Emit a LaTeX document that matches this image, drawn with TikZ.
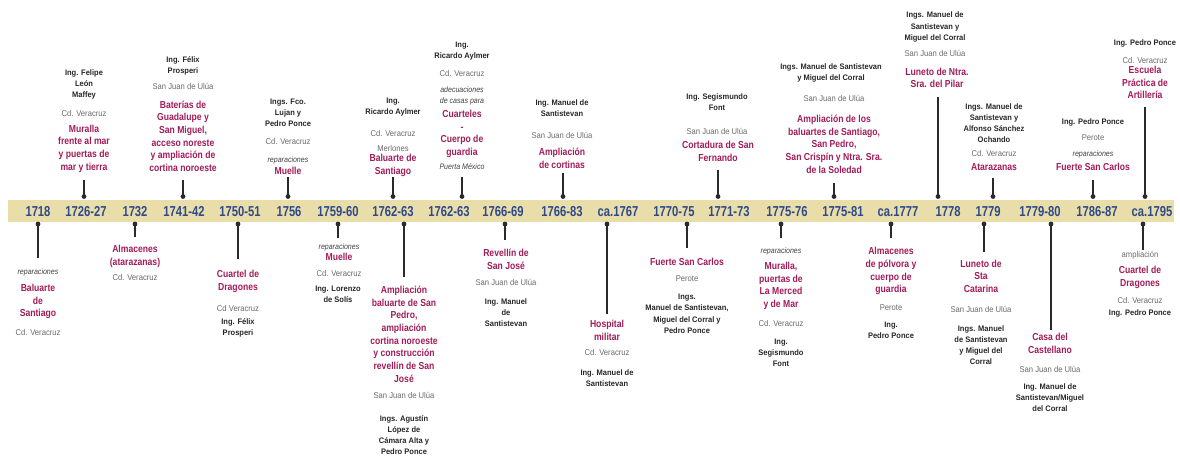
\documentclass[tikz,border=0pt]{standalone}
\usepackage{xcolor}
\usepackage{fontspec}
\setmainfont{Liberation Sans}
\newfontfamily\yearfont[FakeStretch=0.78]{Liberation Sans}
\newfontfamily\workfont[FakeStretch=0.85]{Liberation Sans}
\newfontfamily\namefont[FakeStretch=0.94]{Liberation Sans}
\newfontfamily\placefont[FakeStretch=0.91]{Liberation Sans}
\newfontfamily\notefont[FakeStretch=0.88]{Liberation Sans}
\usepackage{tikz}
\definecolor{BandTan}{HTML}{E9DDAA}
\definecolor{YearBlue}{HTML}{2D4B8A}
\definecolor{WorkRed}{HTML}{A11C59}
\definecolor{PlaceGray}{HTML}{6A6A6A}
\definecolor{NameBlack}{HTML}{262626}
\definecolor{NoteGray}{HTML}{404040}
\definecolor{StemGray}{HTML}{2A2A2A}

\begin{document}
\begin{tikzpicture}[x=0.75pt, y=-0.75pt,
  every node/.style={inner sep=0pt, align=center},
  yearlbl/.style={anchor=base, text=YearBlue, font=\yearfont\bfseries\fontsize{10.8}{12}\selectfont},
  worklbl/.style={text=WorkRed, font=\workfont\bfseries\fontsize{7.6}{9.5}\selectfont},
  whomlbl/.style={text=NameBlack, font=\namefont\bfseries\fontsize{6}{8.3}\selectfont},
  sitelbl/.style={text=PlaceGray, font=\placefont\fontsize{6.3}{8.3}\selectfont},
  notelbl/.style={text=NoteGray, font=\notefont\itshape\fontsize{6}{8.3}\selectfont},
  stemdot/.style={circle, fill=StemGray, minimum size=3.6pt},
  stem/.style={StemGray, line width=0.8pt}]
  \useasboundingbox (0,0) rectangle (1180,455);

  % Band
  \fill[BandTan] (8,200) rectangle (1174,222);
  % Years
  \foreach \x/\t [count=\i] in {38/1718, 86/1726-27, 135/1732, 184/1741-42,
      240/1750-51, 289/1756, 338/1759-60, 393/1762-63, 449/1762-63,
      503/1766-69, 562/1766-83, 618/ca.1767, 674/1770-75, 729/1771-73,
      787/1775-76, 843/1775-81, 898/ca.1777, 948/1778, 988/1779,
      1040/1779-80, 1097/1786-87, 1152/ca.1795}
    \node[yearlbl] (yr\i) at (\x,216) {\t};

  % Stems above the band
  \foreach \x/\e [count=\i] in {84/180, 183/180, 288/177, 393/177, 462/177,
      563/173, 718/170, 834/183, 938/97, 993/178, 1093/180, 1145/107}{
    \node[stemdot] (pu\i) at (\x,196.5) {};
    \coordinate (qu\i) at (\x,\e);
    \draw[stem] (pu\i.center) -- (qu\i);
  }
  % Stems below the band
  \foreach \x/\e [count=\i] in {38/258, 135/237, 238/259, 338/238, 404/277,
      505/240, 607/314, 687/248, 781/238, 891/238, 984/252, 1051/330, 1143/250}{
    \node[stemdot] (pd\i) at (\x,224) {};
    \coordinate (qd\i) at (\x,\e);
    \draw[stem] (pd\i.center) -- (qd\i);
  }

  % Works above
  \node[whomlbl] (up1-who)   at (84,84.3)   {Ing. Felipe\\León\\Maffey};
  \node[sitelbl] (up1-where) at (84,113)    {Cd. Veracruz};
  \node[worklbl] (up1-what)  at (84,148.5)  {Muralla\\frente al mar\\y puertas de\\mar y tierra};

  \node[whomlbl] (up2-who)   at (183,65.5)  {Ing. Félix\\Prosperi};
  \node[sitelbl] (up2-where) at (183,86)    {San Juan de Ulúa};
  \node[worklbl] (up2-what)  at (183,136)   {Baterías de\\Guadalupe y\\San Miguel,\\acceso noreste\\y ampliación de\\cortina noroeste};

  \node[whomlbl] (up3-who)   at (288,112.7) {Ings. Fco.\\Lujan y\\Pedro Ponce};
  \node[sitelbl] (up3-where) at (288,141)   {Cd. Veracruz};
  \node[notelbl] (up3-note)  at (288,160)   {reparaciones};
  \node[worklbl] (up3-what)  at (288,171)   {Muelle};

  \node[whomlbl] (up4-who)   at (393,107.5) {Ing.\\Ricardo Aylmer};
  \node[sitelbl] (up4-where) at (393,133)   {Cd. Veracruz};
  \node[sitelbl] (up4-note)  at (393,148)   {Merlones};
  \node[worklbl] (up4-what)  at (393,165.5) {Baluarte de\\Santiago};

  \node[whomlbl] (up5-who)   at (462,51.5)  {Ing.\\Ricardo Aylmer};
  \node[sitelbl] (up5-where) at (462,73)    {Cd. Veracruz};
  \node[notelbl] (up5-note)  at (462,95.5)  {adecuaciones\\de casas para};
  \node[worklbl] (up5-what)  at (462,134)   {Cuarteles\\-\\Cuerpo de\\guardia};
  \node[notelbl] (up5-gate)  at (462,167)   {Puerta México};

  \node[whomlbl] (up6-who)   at (562,108.5) {Ing. Manuel de\\Santistevan};
  \node[sitelbl] (up6-where) at (562,135)   {San Juan de Ulúa};
  \node[worklbl] (up6-what)  at (562,158)   {Ampliación\\de cortinas};

  \node[whomlbl] (up7-who)   at (717,102)   {Ing. Segismundo\\Font};
  \node[sitelbl] (up7-where) at (717,131)   {San Juan de Ulúa};
  \node[worklbl] (up7-what)  at (718,151.5) {Cortadura de San\\Fernando};

  \node[whomlbl] (up8-who)   at (831,72.5)  {Ings. Manuel de Santistevan\\y Miguel del Corral};
  \node[sitelbl] (up8-where) at (834,98)    {San Juan de Ulúa};
  \node[worklbl] (up8-what)  at (834,144)   {Ampliación de los\\baluartes de Santiago,\\San Pedro,\\San Crispín y Ntra. Sra.\\de la Soledad};

  \node[whomlbl] (up9-who)   at (935,27)    {Ings. Manuel de\\Santistevan y\\Miguel del Corral};
  \node[sitelbl] (up9-where) at (935,53)    {San Juan de Ulúa};
  \node[worklbl] (up9-what)  at (937,78)    {Luneto de Ntra.\\Sra. del Pilar};

  \node[whomlbl] (up10-who)   at (994,123.5) {Ings. Manuel de\\Santistevan y\\Alfonso Sánchez\\Ochando};
  \node[sitelbl] (up10-where) at (994,153)   {Cd. Veracruz};
  \node[worklbl] (up10-what)  at (994,167)   {Atarazanas};

  \node[whomlbl] (up11-who)   at (1093,122)  {Ing. Pedro Ponce};
  \node[sitelbl] (up11-where) at (1093,138)  {Perote};
  \node[notelbl] (up11-note)  at (1093,154)  {reparaciones};
  \node[worklbl] (up11-what)  at (1093,167)  {Fuerte San Carlos};

  \node[whomlbl] (up12-who)   at (1145,43)   {Ing. Pedro Ponce};
  \node[sitelbl] (up12-where) at (1145,60)   {Cd. Veracruz};
  \node[worklbl] (up12-what)  at (1145,82.7) {Escuela\\Práctica de\\Artillería};

  % Works below
  \node[notelbl] (dn1-note)  at (38,272)    {reparaciones};
  \node[worklbl] (dn1-what)  at (38,301.7)  {Baluarte\\de\\Santiago};
  \node[sitelbl] (dn1-where) at (38,332)    {Cd. Veracruz};

  \node[worklbl] (dn2-what)  at (135,256.5) {Almacenes\\(atarazanas)};
  \node[sitelbl] (dn2-where) at (135,277)   {Cd. Veracruz};

  \node[worklbl] (dn3-what)  at (238,281.5) {Cuartel de\\Dragones};
  \node[sitelbl] (dn3-where) at (238,308)   {Cd Veracruz};
  \node[whomlbl] (dn3-who)   at (238,328)   {Ing. Félix\\Prosperi};

  \node[notelbl] (dn4-note)  at (339,247)   {reparaciones};
  \node[worklbl] (dn4-what)  at (339,257)   {Muelle};
  \node[sitelbl] (dn4-where) at (339,273)   {Cd. Veracruz};
  \node[whomlbl] (dn4-who)   at (338,294.5) {Ing. Lorenzo\\de Solís};

  \node[worklbl] (dn5-what)  at (404,334)   {Ampliación\\baluarte de San\\Pedro,\\ampliación\\cortina noroeste\\y construcción\\revellín de San\\José};
  \node[sitelbl] (dn5-where) at (404,395)   {San Juan de Ulúa};
  \node[whomlbl] (dn5-who)   at (404,435)   {Ings. Agustín\\López de\\Cámara Alta y\\Pedro Ponce};

  \node[worklbl] (dn6-what)  at (506,259.5) {Revellín de\\San José};
  \node[sitelbl] (dn6-where) at (506,282)   {San Juan de Ulúa};
  \node[whomlbl] (dn6-who)   at (506,313)   {Ing. Manuel\\de\\Santistevan};

  \node[worklbl] (dn7-what)  at (607,330.5) {Hospital\\militar};
  \node[sitelbl] (dn7-where) at (607,352)   {Cd. Veracruz};
  \node[whomlbl] (dn7-who)   at (607,378.5) {Ing. Manuel de\\Santistevan};

  \node[worklbl] (dn8-what)  at (687,262)   {Fuerte San Carlos};
  \node[sitelbl] (dn8-where) at (687,279)   {Perote};
  \node[whomlbl] (dn8-who)   at (687,313.8) {Ings.\\Manuel de Santistevan,\\Miguel del Corral y\\Pedro Ponce};

  \node[notelbl] (dn9-note)  at (781,251)   {reparaciones};
  \node[worklbl] (dn9-what)  at (781,286)   {Muralla,\\puertas de\\La Merced\\y de Mar};
  \node[sitelbl] (dn9-where) at (781,323)   {Cd. Veracruz};
  \node[whomlbl] (dn9-who)   at (781,353)   {Ing.\\Segismundo\\Font};

  \node[worklbl] (dn10-what)  at (891,271.3) {Almacenes\\de pólvora y\\cuerpo de\\guardia};
  \node[sitelbl] (dn10-where) at (891,308)   {Perote};
  \node[whomlbl] (dn10-who)   at (891,330.5) {Ing.\\Pedro Ponce};

  \node[worklbl] (dn11-what)  at (981,276.3) {Luneto de\\Sta\\Catarina};
  \node[sitelbl] (dn11-where) at (981,309)   {San Juan de Ulúa};
  \node[whomlbl] (dn11-who)   at (981,345)   {Ings. Manuel\\de Santistevan\\y Miguel del\\Corral};

  \node[worklbl] (dn12-what)  at (1050,343.5) {Casa del\\Castellano};
  \node[sitelbl] (dn12-where) at (1050,369)   {San Juan de Ulúa};
  \node[whomlbl] (dn12-who)   at (1050,397.7) {Ing. Manuel de\\Santistevan/Miguel\\del Corral};

  \node[sitelbl] (dn13-note)  at (1140,255)   {ampliación};
  \node[worklbl] (dn13-what)  at (1140,277.5) {Cuartel de\\Dragones};
  \node[sitelbl] (dn13-where) at (1140,300)   {Cd. Veracruz};
  \node[whomlbl] (dn13-who)   at (1140,313)   {Ing. Pedro Ponce};
\end{tikzpicture}
\end{document}
